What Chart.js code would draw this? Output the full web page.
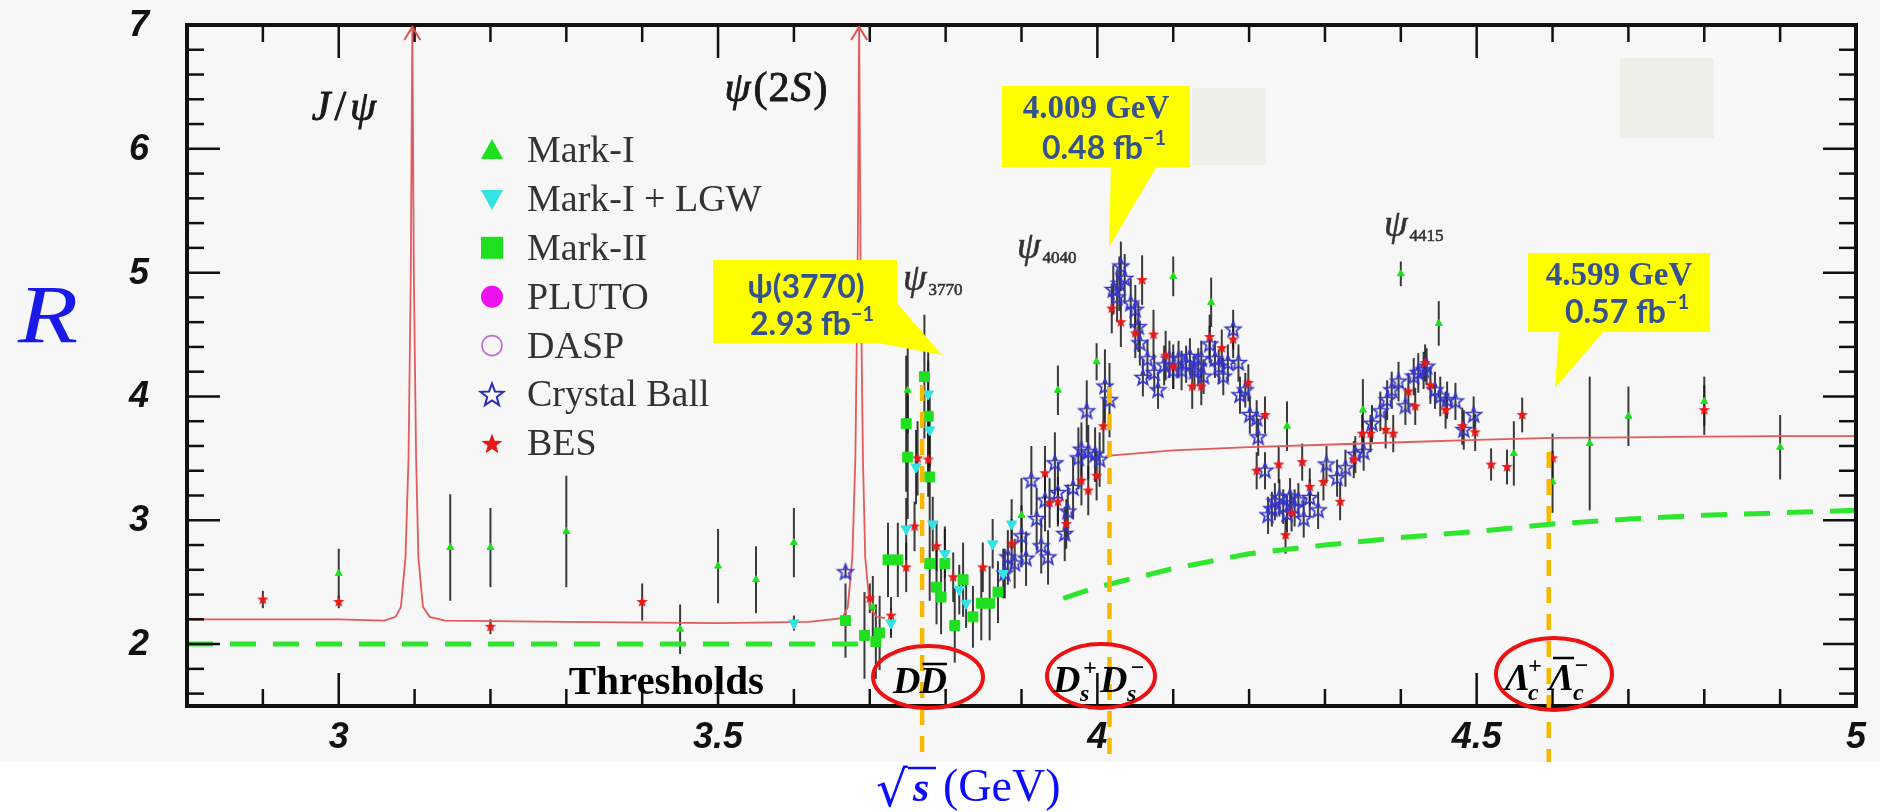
<!DOCTYPE html>
<html>
<head>
<meta charset="utf-8">
<script src="https://cdn.jsdelivr.net/npm/chart.js@4.4.1/dist/chart.umd.min.js"></script>
<style>
html,body{margin:0;padding:0;background:#ffffff;overflow:hidden;}
#wrap{width:1880px;height:812px;}
canvas{display:block;}
</style>
</head>
<body>
<div id="wrap"><canvas id="chart" width="1880" height="812"></canvas></div>
<script>
// ================= DATA =================
const xTickValues = [3, 3.5, 4, 4.5, 5];
const xTickLabels = ['3', '3.5', '4', '4.5', '5'];
const yTickValues = [2, 3, 4, 5, 6, 7];
const yTickLabels = ['2', '3', '4', '5', '6', '7'];
const seriesNames = ['Mark-I', 'Mark-I + LGW', 'Mark-II', 'PLUTO', 'DASP', 'Crystal Ball', 'BES'];

// each entry: [sqrt(s) in GeV, R, error]
const markI = [
  [3.0,2.57,0.2],[3.147,2.78,0.43],[3.2,2.78,0.32],[3.3,2.91,0.45],[3.45,2.12,0.2],
  [3.5,2.63,0.3],[3.55,2.52,0.27],[3.6,2.82,0.28],[3.704,2.30,0.25],[3.75,4.05,0.35],
  [3.90,3.04,0.3],[3.948,4.05,0.2],[3.999,4.28,0.15],[4.10,4.97,0.16],[4.15,4.76,0.2],
  [4.25,3.76,0.2],[4.35,3.89,0.25],[4.40,4.99,0.1],[4.45,4.59,0.18],[4.549,3.54,0.26],
  [4.60,3.31,0.25],[4.649,3.62,0.54],[4.70,3.84,0.24],[4.80,3.96,0.2],[4.90,3.59,0.26]
];
const markILGW = [
  [3.6,2.17,0.06],[3.728,2.17,0.12],[3.748,2.93,0.25],[3.761,3.43,0.3],[3.777,4.02,0.35],
  [3.779,3.73,0.3],[3.783,2.97,0.22],[3.799,2.73,0.2],[3.818,2.44,0.2],[3.827,2.33,0.2],
  [3.862,2.81,0.2],[3.876,2.57,0.2],[3.887,2.97,0.2]
];
const markII = [
  [3.668,2.19,0.3],[3.693,2.07,0.35],[3.708,2.02,0.3],[3.713,2.09,0.3],[3.724,2.68,0.3],
  [3.737,2.68,0.3],[3.748,3.78,0.55],[3.75,3.51,0.5],[3.772,4.16,0.5],[3.777,3.84,0.45],
  [3.779,3.35,0.4],[3.779,2.65,0.3],[3.788,2.46,0.3],[3.794,2.38,0.3],[3.799,2.65,0.3],
  [3.812,2.15,0.3],[3.823,2.52,0.3],[3.836,2.22,0.25],[3.847,2.33,0.3],[3.858,2.33,0.3],
  [3.869,2.42,0.25]
];
const pluto = [];
const dasp = [];
const crystalBall = [
  [3.668,2.58,0.05],[3.878,2.57,0.2],[3.882,2.70,0.22],[3.891,2.65,0.2],[3.900,2.87,0.25],
  [3.906,2.69,0.22],[3.913,3.32,0.28],[3.920,3.01,0.25],[3.926,2.79,0.22],[3.931,3.16,0.25],
  [3.935,2.70,0.22],[3.944,3.46,0.25],[3.948,3.22,0.25],[3.957,2.89,0.22],[3.961,3.07,0.22],
  [3.968,3.26,0.25],[3.975,3.50,0.25],[3.979,3.57,0.22],[3.986,3.88,0.25],[3.988,3.55,0.22],
  [3.997,3.53,0.22],[4.003,3.49,0.22],[4.010,4.08,0.3],[4.016,3.97,0.3],[4.021,4.86,0.2],
  [4.026,4.80,0.2],[4.029,4.91,0.22],[4.031,5.05,0.2],[4.036,4.95,0.2],[4.044,4.75,0.2],
  [4.050,4.70,0.2],[4.054,4.56,0.2],[4.056,4.43,0.18],[4.060,4.15,0.15],[4.066,4.30,0.16],
  [4.075,4.19,0.15],[4.080,4.05,0.15],[4.088,4.25,0.16],[4.095,4.30,0.15],[4.100,4.21,0.15],
  [4.107,4.30,0.15],[4.111,4.21,0.16],[4.117,4.26,0.15],[4.122,4.32,0.15],[4.128,4.20,0.14],
  [4.133,4.24,0.15],[4.137,4.30,0.15],[4.140,4.16,0.14],[4.148,4.42,0.15],[4.155,4.30,0.15],
  [4.160,4.24,0.14],[4.166,4.16,0.15],[4.172,4.27,0.15],[4.179,4.54,0.16],[4.186,4.27,0.15],
  [4.188,4.01,0.15],[4.195,4.05,0.14],[4.201,3.85,0.15],[4.210,3.82,0.15],[4.212,3.67,0.15],
  [4.221,3.40,0.15],[4.225,3.04,0.15],[4.230,3.09,0.14],[4.234,3.15,0.15],[4.240,3.18,0.15],
  [4.245,3.11,0.14],[4.250,3.05,0.15],[4.254,3.19,0.15],[4.260,3.10,0.15],[4.265,3.16,0.14],
  [4.272,3.01,0.15],[4.280,3.18,0.15],[4.291,3.08,0.15],[4.302,3.45,0.15],[4.316,3.34,0.15],
  [4.327,3.42,0.15],[4.340,3.53,0.15],[4.351,3.55,0.15],[4.362,3.78,0.15],[4.373,3.88,0.16],
  [4.382,3.97,0.16],[4.388,4.05,0.15],[4.397,4.12,0.16],[4.406,3.92,0.15],[4.417,4.16,0.15],
  [4.423,4.19,0.16],[4.430,4.21,0.15],[4.434,4.24,0.15],[4.445,4.05,0.15],[4.452,4.00,0.16],
  [4.461,3.97,0.15],[4.472,3.96,0.15],[4.483,3.73,0.16],[4.496,3.85,0.15]
];
const bes = [
  [2.9,2.36,0.07],[3.0,2.34,0.05],[3.2,2.14,0.06],[3.4,2.34,0.15],
  [3.70,2.37,0.12],[3.728,2.23,0.15],[3.748,2.62,0.2],[3.759,2.95,0.2],[3.763,3.50,0.3],
  [3.777,3.49,0.3],[3.788,2.79,0.2],[3.81,2.54,0.2],[3.849,2.62,0.2],[3.887,2.81,0.2],
  [3.931,3.38,0.22],[3.937,3.14,0.2],[3.948,3.15,0.2],[3.959,2.97,0.2],[3.979,3.32,0.2],
  [3.988,3.24,0.2],[3.999,3.36,0.2],[4.008,3.76,0.22],[4.019,4.71,0.2],[4.031,4.60,0.2],
  [4.05,4.51,0.2],[4.059,4.94,0.2],[4.074,4.50,0.2],[4.09,4.33,0.2],[4.10,4.24,0.18],
  [4.125,4.08,0.18],[4.137,4.08,0.15],[4.148,4.48,0.18],[4.164,4.39,0.15],[4.179,4.46,0.15],
  [4.199,4.11,0.15],[4.21,3.40,0.15],[4.221,3.85,0.15],[4.239,3.45,0.15],[4.248,2.88,0.15],
  [4.256,3.06,0.15],[4.27,3.47,0.15],[4.28,3.27,0.15],[4.298,3.31,0.15],[4.32,3.15,0.15],
  [4.338,3.49,0.15],[4.349,3.70,0.15],[4.36,3.70,0.15],[4.38,3.73,0.15],[4.39,3.70,0.15],
  [4.41,4.04,0.15],[4.419,3.92,0.15],[4.432,4.27,0.15],[4.439,4.09,0.15],[4.459,3.89,0.15],
  [4.481,3.76,0.15],[4.498,3.71,0.15],[4.519,3.45,0.13],[4.54,3.43,0.14],[4.56,3.85,0.14],
  [4.60,3.50,0.2],[4.80,3.89,0.2]
];

// theory curves: [sqrt(s), R]  (null = gap)
const pqcdCurve = [
  [2.8,2.20],[3.0,2.20],[3.06,2.19],[3.075,2.22],[3.082,2.30],[3.088,2.70],[3.092,3.50],
  [3.095,5.00],[3.097,7.00],[3.099,5.00],[3.102,3.50],[3.105,2.70],[3.111,2.30],[3.12,2.22],
  [3.14,2.19],[3.3,2.18],[3.5,2.17],[3.62,2.18],[3.664,2.21],[3.671,2.30],[3.677,2.70],
  [3.681,3.50],[3.684,5.00],[3.686,7.00],[3.688,5.00],[3.691,3.50],[3.694,2.70],[3.700,2.30],
  [3.709,2.22],[3.72,2.21],[3.86,null],[4.012,3.52],[4.1,3.565],[4.2,3.59],[4.3,3.61],
  [4.4,3.63],[4.5,3.65],[4.6,3.665],[4.7,3.67],[4.8,3.675],[4.9,3.68],[5.0,3.68]
];
const quarkModel = [
  [2.8,2.0],[3.7,2.0],[3.8,null],[3.955,2.37],[4.0,2.46],[4.1,2.61],[4.2,2.73],[4.3,2.80],
  [4.4,2.86],[4.5,2.91],[4.6,2.97],[4.7,3.01],[4.8,3.04],[4.9,3.06],[5.0,3.08]
];
const resonancePeaks = [3.097, 3.686];
const thresholdLines = [3.769, 4.016, 4.595];

// ================= HELPERS =================
function toPts(arr){ return arr.map(p => ({x: p[0], y: p[1]})); }
function toErr(arr){ return arr.map(p => p[2]); }

function starPath(g, cx, cy, r){
  g.beginPath();
  for (let i = 0; i < 10; i++){
    const rad = (i % 2 === 0) ? r : r * 0.42;
    const a = -Math.PI/2 + i * Math.PI/5;
    const px = cx + rad*Math.cos(a), py = cy + rad*Math.sin(a);
    if (i === 0) g.moveTo(px, py); else g.lineTo(px, py);
  }
  g.closePath();
}
function makeStar(r, fill, stroke, lw){
  const s = Math.ceil(2*r + 2*lw + 4);
  const c = document.createElement('canvas'); c.width = s; c.height = s;
  const g = c.getContext('2d');
  starPath(g, s/2, s/2, r);
  if (fill){ g.fillStyle = fill; g.fill(); }
  if (stroke){ g.strokeStyle = stroke; g.lineWidth = lw; g.stroke(); }
  return c;
}
const blueStar = makeStar(8, null, '#3434c8', 1.7);
const redStar = makeStar(6, '#e81818', null, 0);

// ================= PLUGINS =================
const bgPlugin = {
  id: 'bg',
  beforeDraw(chart){
    const ctx = chart.ctx;
    ctx.save();
    ctx.fillStyle = '#ffffff'; ctx.fillRect(0, 0, chart.width, chart.height);
    ctx.fillStyle = '#f7f7f7'; ctx.fillRect(0, 0, chart.width, 762);
    ctx.restore();
  }
};

const errPlugin = {
  id: 'errbars',
  beforeDatasetsDraw(chart){
    const {ctx, chartArea: a, scales: {x, y}} = chart;
    ctx.save();
    ctx.beginPath(); ctx.rect(a.left, a.top, a.right - a.left, a.bottom - a.top); ctx.clip();
    ctx.strokeStyle = 'rgba(25,25,25,0.85)'; ctx.lineWidth = 2;
    chart.data.datasets.forEach(ds => {
      if (!ds.errs) return;
      ds.data.forEach((p, i) => {
        const e = ds.errs[i]; if (!e) return;
        const px = x.getPixelForValue(p.x);
        ctx.beginPath();
        ctx.moveTo(px, y.getPixelForValue(p.y - e));
        ctx.lineTo(px, y.getPixelForValue(p.y + e));
        ctx.stroke();
      });
    });
    ctx.restore();
  }
};

const framePlugin = {
  id: 'frame',
  afterDatasetsDraw(chart){
    const {ctx, chartArea: a, scales: {x, y}} = chart;
    ctx.save();
    ctx.strokeStyle = '#111'; ctx.lineWidth = 2.5;
    // x ticks (every 0.1, major every 0.5)
    for (let k = 28; k <= 50; k++){
      const px = x.getPixelForValue(k/10);
      const len = (k % 5 === 0) ? 33 : 17;
      ctx.beginPath(); ctx.moveTo(px, a.bottom); ctx.lineTo(px, a.bottom - len); ctx.stroke();
      ctx.beginPath(); ctx.moveTo(px, a.top); ctx.lineTo(px, a.top + len); ctx.stroke();
    }
    // y ticks (every 0.2, major every 1)
    for (let k = 8; k <= 35; k++){
      const py = y.getPixelForValue(k/5);
      const len = (k % 5 === 0) ? 33 : 17;
      ctx.beginPath(); ctx.moveTo(a.left, py); ctx.lineTo(a.left + len, py); ctx.stroke();
      ctx.beginPath(); ctx.moveTo(a.right, py); ctx.lineTo(a.right - len, py); ctx.stroke();
    }
    // frame
    ctx.lineWidth = 4;
    ctx.strokeRect(a.left, a.top, a.right - a.left, a.bottom - a.top);
    // tick labels
    ctx.fillStyle = '#111';
    ctx.font = 'italic bold 36px "Liberation Sans", Arial, sans-serif';
    ctx.textAlign = 'center'; ctx.textBaseline = 'middle';
    xTickValues.forEach((v, i) => ctx.fillText(xTickLabels[i], x.getPixelForValue(v), a.bottom + 32));
    ctx.textAlign = 'right';
    yTickValues.forEach((v, i) => ctx.fillText(yTickLabels[i], a.left - 38, y.getPixelForValue(v) + 1));
    ctx.restore();
  }
};

function runs(ctx, x, y, parts, align, strokeW){
  // parts: [text, font, dy, extraSpacing]
  let w = 0;
  parts.forEach(p => { ctx.font = p[1]; w += ctx.measureText(p[0]).width + (p[3] || 0); });
  let cx = align === 'center' ? x - w/2 : (align === 'right' ? x - w : x);
  ctx.textAlign = 'left';
  parts.forEach(p => {
    ctx.font = p[1];
    ctx.fillText(p[0], cx, y + (p[2] || 0));
    if (strokeW){ ctx.lineWidth = strokeW; ctx.strokeText(p[0], cx, y + (p[2] || 0)); }
    cx += ctx.measureText(p[0]).width + (p[3] || 0);
  });
  return w;
}

function legendMarker(ctx, i, cx, cy){
  ctx.save();
  switch(i){
    case 0: ctx.fillStyle = '#1ee01e'; ctx.beginPath(); ctx.moveTo(cx, cy-11); ctx.lineTo(cx+11, cy+9); ctx.lineTo(cx-11, cy+9); ctx.closePath(); ctx.fill(); break;
    case 1: ctx.fillStyle = '#33e3e3'; ctx.beginPath(); ctx.moveTo(cx, cy+11); ctx.lineTo(cx+11, cy-9); ctx.lineTo(cx-11, cy-9); ctx.closePath(); ctx.fill(); break;
    case 2: ctx.fillStyle = '#1ee01e'; ctx.fillRect(cx-11, cy-11, 22, 22); break;
    case 3: ctx.fillStyle = '#ee10ee'; ctx.beginPath(); ctx.arc(cx, cy, 11, 0, Math.PI*2); ctx.fill(); break;
    case 4: ctx.strokeStyle = '#c070d0'; ctx.lineWidth = 1.6; ctx.beginPath(); ctx.arc(cx, cy, 10, 0, Math.PI*2); ctx.stroke(); break;
    case 5: ctx.strokeStyle = '#2a2ab8'; ctx.lineWidth = 2; starPath(ctx, cx, cy+1, 12); ctx.stroke(); break;
    case 6: ctx.fillStyle = '#e81818'; starPath(ctx, cx, cy+1, 11); ctx.fill(); break;
  }
  ctx.restore();
}

function callout(ctx, box, pointer, lines){
  ctx.save();
  ctx.fillStyle = '#ffff00';
  ctx.fillRect(box[0], box[1], box[2], box[3]);
  ctx.beginPath(); ctx.moveTo(pointer[0][0], pointer[0][1]);
  for (let i = 1; i < pointer.length; i++) ctx.lineTo(pointer[i][0], pointer[i][1]);
  ctx.closePath(); ctx.fill();
  ctx.fillStyle = '#34528e'; ctx.textBaseline = 'alphabetic';
  lines.forEach(l => runs(ctx, l.x, l.y, l.parts, 'center'));
  ctx.restore();
}

const annoPlugin = {
  id: 'anno',
  afterDraw(chart){
    const {ctx, chartArea: a, scales: {x, y}} = chart;
    ctx.save();
    // arrowheads on resonance peaks
    ctx.strokeStyle = '#e05252'; ctx.lineWidth = 2;
    resonancePeaks.forEach(v => {
      const px = x.getPixelForValue(v), py = y.getPixelForValue(7) + 2;
      ctx.beginPath(); ctx.moveTo(px - 8, py + 13); ctx.lineTo(px, py); ctx.lineTo(px + 8, py + 13); ctx.stroke();
    });

    // orange threshold dashed lines
    const startY = [385, 387, 452];
    ctx.strokeStyle = '#f6b900'; ctx.lineWidth = 4.5; ctx.setLineDash([16, 11]);
    thresholdLines.forEach((v, i) => {
      const px = x.getPixelForValue(v);
      ctx.beginPath(); ctx.moveTo(px, startY[i]); ctx.lineTo(px, 762); ctx.stroke();
    });
    ctx.setLineDash([]);

    // red ellipses
    ctx.strokeStyle = '#ec1212'; ctx.lineWidth = 4;
    [[928, 677, 55, 31], [1101, 676, 54, 32], [1554, 674, 58, 36]].forEach(e => {
      ctx.beginPath(); ctx.ellipse(e[0], e[1], e[2], e[3], 0, 0, Math.PI*2); ctx.stroke();
    });

    // threshold labels
    ctx.fillStyle = '#000'; ctx.textBaseline = 'alphabetic';
    const BI = 'italic bold 38px "Liberation Serif", serif';
    const BIs = 'italic bold 24px "Liberation Serif", serif';
    runs(ctx, 893, 693, [['D', BI, 0, -1], ['D', BI, 0]], 'left');
    ctx.font = BI;
    const dW = ctx.measureText('D').width;
    ctx.lineWidth = 2.5; ctx.strokeStyle = '#000';
    ctx.beginPath(); ctx.moveTo(893 + dW + 2, 664); ctx.lineTo(893 + 2*dW - 1, 664); ctx.stroke();
    ctx.font = BI; ctx.textAlign = 'left';
    ctx.fillText('D', 1053, 692);
    ctx.font = BIs; ctx.fillText('+', 1083, 675); ctx.fillText('s', 1080, 701);
    ctx.font = BI; ctx.fillText('D', 1100, 692);
    ctx.font = BIs; ctx.fillText('\u2212', 1130, 675); ctx.fillText('s', 1127, 701);
    ctx.font = BI; ctx.fillText('\u039B', 1505, 690);
    ctx.font = BIs; ctx.fillText('+', 1528, 673); ctx.fillText('c', 1528, 700);
    ctx.font = BI; ctx.fillText('\u039B', 1549, 690);
    ctx.beginPath(); ctx.moveTo(1553, 658); ctx.lineTo(1574, 658); ctx.stroke();
    ctx.font = BIs; ctx.fillText('\u2212', 1574, 673); ctx.fillText('c', 1573, 700);

    // "Thresholds"
    ctx.font = 'bold 41px "Liberation Serif", serif'; ctx.textAlign = 'right';
    ctx.fillText('Thresholds', 764, 694);

    // resonance names
    ctx.fillStyle = '#1a1a1a'; ctx.strokeStyle = '#1a1a1a'; ctx.textAlign = 'left';
    const IT = 'italic 42px "Liberation Serif", serif';
    const RM = '42px "Liberation Serif", serif';
    runs(ctx, 344, 120, [['J', IT, 0, 4], ['/', RM, 0, 4], ['\u03C8', IT, 0]], 'center', 0.9);
    runs(ctx, 776, 101, [['\u03C8', IT, 0, 3], ['(', RM, 0, 1], ['2', RM, 0, 1], ['S', IT, 0, 2], [')', RM, 0]], 'center', 0.9);
    ctx.fillStyle = '#333'; ctx.strokeStyle = '#333';
    const PS = 'italic 38px "Liberation Serif", serif';
    const SUB = '17px "Liberation Serif", serif';
    runs(ctx, 903, 290, [['\u03C8', PS, 0, 2], ['3770', SUB, 5]], 'left', 0.6);
    runs(ctx, 1017, 258, [['\u03C8', PS, 0, 2], ['4040', SUB, 5]], 'left', 0.6);
    runs(ctx, 1384, 236, [['\u03C8', PS, 0, 2], ['4415', SUB, 5]], 'left', 0.6);

    // legend
    ctx.textBaseline = 'middle'; ctx.textAlign = 'left';
    ctx.font = '38px "Liberation Serif", serif';
    seriesNames.forEach((n, i) => {
      const ly = 150 + i * 48.9;
      legendMarker(ctx, i, 492, ly);
      ctx.fillStyle = '#333';
      ctx.fillText(n, 527, ly + 2);
    });
    ctx.textBaseline = 'alphabetic';

    // gray patches
    ctx.fillStyle = '#efefe9';
    ctx.fillRect(1192, 88, 74, 77);
    ctx.fillRect(1620, 58, 94, 80);

    // callouts
    const CB = 'bold 32px Lato, "Open Sans", sans-serif';
    const CBs = 'bold 20px Lato, "Open Sans", sans-serif';
    const SB = 'bold 33px "Liberation Serif", serif';
    callout(ctx, [713, 260, 184, 83], [[897, 303], [942, 355], [878, 343]], [
      {x: 806, y: 298, parts: [['\u03C8(3770)', CB, 0]]},
      {x: 812, y: 335, parts: [['2.93 fb', CB, 0], ['\u22121', CBs, -14]]}
    ]);
    callout(ctx, [1002, 86, 188, 81], [[1111, 166], [1157, 166], [1109, 247]], [
      {x: 1096, y: 118, parts: [['4.009 GeV', SB, 0]]},
      {x: 1104, y: 159, parts: [['0.48 fb', CB, 0], ['\u22121', CBs, -14]]}
    ]);
    callout(ctx, [1528, 253, 182, 79], [[1559, 331], [1604, 331], [1555, 388]], [
      {x: 1619, y: 285, parts: [['4.599 GeV', SB, 0]]},
      {x: 1627, y: 323, parts: [['0.57 fb', CB, 0], ['\u22121', CBs, -14]]}
    ]);

    // axis titles
    ctx.save();
    ctx.fillStyle = '#1a1ae8'; ctx.textAlign = 'left';
    ctx.font = 'italic 82px "Liberation Serif", serif';
    ctx.translate(18, 342); ctx.scale(1.2, 1);
    ctx.fillText('R', 0, 0);
    ctx.restore();
    ctx.fillStyle = '#0c0cff'; ctx.textAlign = 'left';
    ctx.font = '50px "DejaVu Serif", "Liberation Serif", serif';
    ctx.fillText('\u221A', 876, 806);
    ctx.font = 'italic bold 42px "Liberation Serif", serif';
    ctx.fillText('s', 913, 801);
    ctx.strokeStyle = '#0c0cff'; ctx.lineWidth = 2.5;
    ctx.beginPath(); ctx.moveTo(908, 768); ctx.lineTo(936, 768); ctx.stroke();
    ctx.font = '46px "Liberation Serif", serif';
    ctx.fillText('(GeV)', 943, 801);
    ctx.restore();
  }
};

// ================= CHART =================
const lineOpts = {showLine: true, pointRadius: 0, pointHoverRadius: 0, fill: false, spanGaps: false, tension: 0};
new Chart(document.getElementById('chart'), {
  type: 'scatter',
  data: {
    datasets: [
      {label: seriesNames[0], data: toPts(markI), errs: toErr(markI), pointStyle: 'triangle', pointRadius: 4,
       backgroundColor: '#1ee01e', borderColor: '#1ee01e', borderWidth: 1, order: 1},
      {label: seriesNames[1], data: toPts(markILGW), errs: toErr(markILGW), pointStyle: 'triangle', rotation: 180, pointRadius: 6,
       backgroundColor: '#33e3e3', borderColor: '#33e3e3', borderWidth: 1, order: 2},
      {label: seriesNames[2], data: toPts(markII), errs: toErr(markII), pointStyle: 'rect', pointRadius: 7,
       backgroundColor: '#1ee01e', borderColor: '#1ee01e', borderWidth: 1, order: 3},
      {label: seriesNames[3], data: toPts(pluto), errs: toErr(pluto), pointStyle: 'circle', pointRadius: 5,
       backgroundColor: '#ee10ee', borderColor: '#ee10ee', order: 4},
      {label: seriesNames[4], data: toPts(dasp), errs: toErr(dasp), pointStyle: 'circle', pointRadius: 5,
       backgroundColor: 'rgba(0,0,0,0)', borderColor: '#c070d0', order: 4},
      {label: seriesNames[5], data: toPts(crystalBall), errs: toErr(crystalBall), pointStyle: blueStar, pointRadius: 8,
       backgroundColor: '#3434c8', borderColor: '#3434c8', order: 6},
      {label: seriesNames[6], data: toPts(bes), errs: toErr(bes), pointStyle: redStar, pointRadius: 6,
       backgroundColor: '#e81818', borderColor: '#e81818', order: 5},
      Object.assign({label: 'pQCD', data: toPts(pqcdCurve), borderColor: '#e35b5b', borderWidth: 1.8, order: 10}, lineOpts),
      Object.assign({label: 'quark model', data: toPts(quarkModel), borderColor: '#2ee62e', borderWidth: 5,
        borderDash: [26, 17], order: 9}, lineOpts)
    ]
  },
  options: {
    responsive: false,
    animation: false,
    devicePixelRatio: 1,
    layout: {padding: {left: 187, right: 24, top: 25, bottom: 106}},
    scales: {
      x: {type: 'linear', min: 2.8, max: 5.0, display: false},
      y: {type: 'linear', min: 1.5, max: 7.0, display: false}
    },
    plugins: {legend: {display: false}, tooltip: {enabled: false}},
    events: []
  },
  plugins: [bgPlugin, errPlugin, framePlugin, annoPlugin]
});
</script>
</body>
</html>
